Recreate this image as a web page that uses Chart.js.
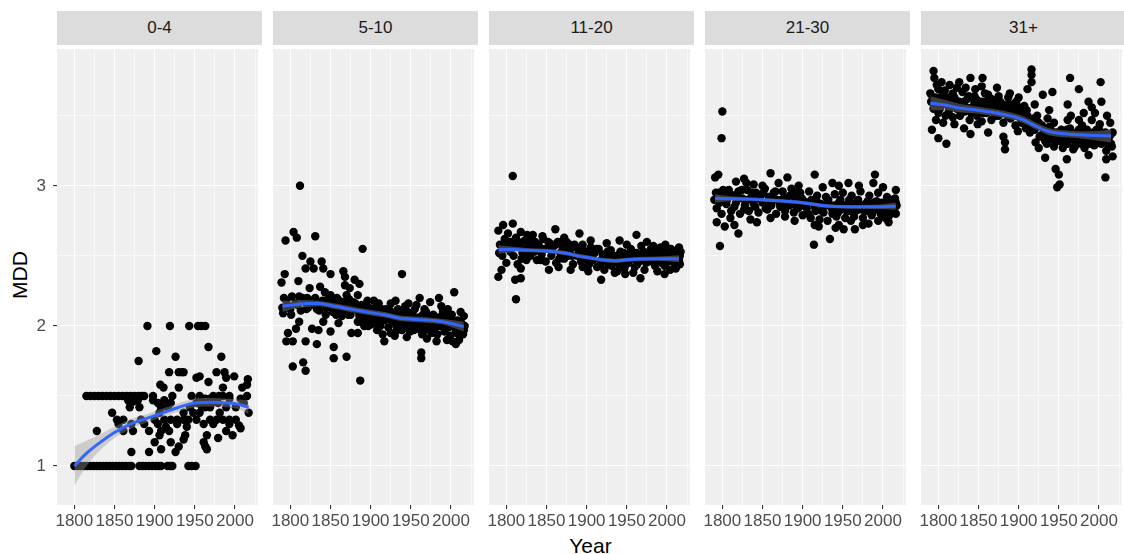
<!DOCTYPE html>
<html>
<head>
<meta charset="utf-8">
<script src="https://cdn.jsdelivr.net/npm/chart.js@4.4.1/dist/chart.umd.min.js"></script>
<style>
  body { margin: 0; width: 1124px; height: 554px; overflow: hidden; background: #fff; position: relative;
         font-family: "Liberation Sans", Arial, sans-serif; }
  .strip { position: absolute; top: 11px; height: 34px; width: 205px; background: #dcdcdc; color: #1a1a1a;
           font-size: 17px; display: flex; align-items: center; justify-content: center; }
  canvas { position: absolute; top: 45px; }
  #xtitle { position: absolute; left: 0; width: 1181px; top: 536px; line-height: 20px; font-size: 21px;
            text-align: center; color: #000; }
  #ytitle { position: absolute; left: 20px; top: 275px; font-size: 21px; line-height: 20px; color: #000;
            transform: translate(-50%, -50%) rotate(-90deg); white-space: nowrap; }
</style>
</head>
<body>
<div id="ytitle">MDD</div>
<div id="xtitle">Year</div>
<script>
const facets = ["0-4", "5-10", "11-20", "21-30", "31+"]
const xTicks = [1800, 1825, 1850, 1875, 1900, 1925, 1950, 1975, 2000, 2025]
const yTicks = [1, 1.5, 2, 2.5, 3, 3.5]

// points: [year, MDD]
const pts04 = [
  [1800,1],[1804,1],[1808,1],[1812,1],[1816,1],[1820,1],[1824,1],[1828,1],[1832,1],[1836,1],[1840,1],[1844,1],
  [1848,1],[1852,1],[1856,1],[1860,1],[1864,1],[1868,1],[1871,1],[1881,1],[1885,1],[1889,1],[1893,1],[1897,1],
  [1901,1],[1905,1],[1908,1],[1916,1],[1919,1],[1922,1],[1942,1],[1946,1],[1951,1],
  [1815,1.5],[1820,1.5],[1825,1.5],[1830,1.5],[1835,1.5],[1840,1.5],[1845,1.5],[1850,1.5],[1855,1.5],[1860,1.5],
  [1865,1.5],[1870,1.5],[1875,1.5],[1880,1.5],[1884,1.5],[1887,1.5],[1898,1.5],[1922,1.5],[1946,1.5],[1956,1.5],
  [1973,1.5],[1980,1.5],[1985,1.5],[1993,1.5],[2015,1.5],
  [1891,2],[1919,2],[1943,2],[1954,2],[1958,2],[1963,2],
  [1880,1.75],[1902,1.82],[1967,1.85],[1926,1.78],[1983,1.78],
  [1918,1.67],[1930,1.67],[1934,1.67],[1936,1.67],[1977,1.67],[1987,1.67],[1999,1.64],
  [1952,1.63],[1956,1.64],[1989,1.63],[2016,1.62],[1907,1.58],[1967,1.6],[2015,1.58],
  [1911,1.56],[1930,1.56],[1985,1.56],[2009,1.56],
  [1867,1.47],[1873,1.46],[1879,1.47],[1898,1.47],[1912,1.47],[1956,1.48],[1963,1.48],[1969,1.48],[1977,1.47],
  [1993,1.48],[2007,1.48],[1904,1.45],[1920,1.45],[1952,1.45],[1971,1.45],[1979,1.45],[2011,1.45],
  [1869,1.42],[1881,1.42],[1908,1.42],[1916,1.42],[1944,1.42],[1959,1.42],[1963,1.42],[1969,1.42],[1989,1.42],
  [2001,1.42],[2017,1.38],[1847,1.38],[1906,1.38],[1936,1.38],[1948,1.38],[1956,1.38],[1981,1.38],
  [1853,1.33],[1861,1.33],[1883,1.33],[1900,1.33],[1912,1.33],[1920,1.33],[1928,1.33],[1936,1.33],[1942,1.33],
  [1952,1.33],[1969,1.33],[1977,1.33],[1985,1.33],[1993,1.33],[2001,1.33],
  [1855,1.3],[1871,1.3],[1887,1.3],[1904,1.3],[1928,1.3],[1961,1.3],[1973,1.3],[1993,1.3],[2005,1.29],
  [1914,1.28],[1940,1.28],[2007,1.27],[1828,1.25],[1861,1.25],[1873,1.25],[1893,1.25],[1908,1.25],[1918,1.25],
  [1989,1.25],[1906,1.22],[1938,1.22],[1965,1.22],[1997,1.22],[1936,1.19],[1979,1.2],
  [1900,1.17],[1920,1.17],[1961,1.17],[1930,1.14],[1963,1.14],[1908,1.12],[1965,1.12],
  [1871,1.1],[1893,1.1],[1926,1.1]
]

const pts510 = [
  [1812,3.0],[1804,2.67],[1794,2.61],[1808,2.63],[1831,2.64],[1890,2.55],[1815,2.5],[1825,2.46],[1839,2.46],
  [1819,2.41],[1829,2.41],[1841,2.41],[1850,2.37],[1866,2.39],[1868,2.35],[1939,2.37],[1793,2.37],[1789,2.31],
  [1810,2.32],[1824,2.27],[1837,2.28],[1880,2.33],[1886,2.3],[1868,2.29],[1874,2.27],[2004,2.24],[1843,2.24],
  [1850,2.22],[1961,2.2],[1985,2.2],[1811,2.21],[1821,2.2],[1858,2.2],[1870,2.22],[1884,2.22],[1896,2.18],
  [1904,2.18],[1931,2.18],[1947,2.16],[1974,2.17],
  [1791,2.09],[1801,2.08],[1811,2.03],[1807,1.98],[1797,1.95],[1795,1.89],[1803,1.89],[1819,1.89],[1833,1.87],
  [1827,1.98],[1835,1.97],[1841,2.03],[1850,1.96],[1854,1.85],[1803,1.71],[1816,1.74],[1819,1.68],[1854,1.77],
  [1870,1.78],[1887,1.61],[1876,1.95],[1884,1.95],[1860,2.02],[1864,2.07],[1872,2.08],[1884,2.03],[1900,2.01],
  [1917,1.89],[1925,1.95],[1908,1.97],[1892,2.0],[1963,1.81],[1963,1.77],[2002,1.89],[2006,1.87],[2010,1.9],
  [2016,2.07],[2014,1.96],[2000,2.05],
  [1790,2.13],[1795,2.18],[1800,2.12],[1806,2.16],[1813,2.11],[1818,2.17],[1822,2.13],[1828,2.18],[1833,2.12],
  [1838,2.16],[1845,2.13],[1847,2.19],[1853,2.1],[1856,2.15],[1862,2.12],[1866,2.17],[1871,2.13],[1875,2.08],
  [1878,2.17],[1882,2.12],[1886,2.07],[1889,2.15],[1893,2.1],[1895,2.05],[1898,2.13],[1901,2.09],[1903,2.02],
  [1906,2.13],[1909,2.06],[1912,2.0],[1914,2.12],[1917,2.04],[1920,2.08],[1922,1.99],[1924,2.11],[1927,2.03],
  [1929,2.08],[1932,2.0],[1934,2.12],[1936,2.05],[1939,1.97],[1941,2.07],[1944,2.01],[1946,2.1],[1949,1.96],
  [1951,2.05],[1953,2.0],[1955,2.12],[1958,1.98],[1960,2.06],[1964,1.94],[1966,2.03],[1969,2.1],[1971,1.98],
  [1973,2.05],[1976,1.95],[1978,2.08],[1980,2.01],[1983,1.94],[1985,2.06],[1987,2.0],[1990,2.1],[1992,1.96],
  [1994,2.04],[1997,1.99],[1999,1.93],[2001,2.08],[2003,2.0],[2006,1.96],[2008,2.04],[2011,1.99],[2013,2.02],
  [2015,1.94],[2017,2.0],[1957,2.15],[1988,2.14],[1943,2.14],[1925,2.16],[1910,2.16],[1996,2.12],[2012,2.1],
  [1915,1.94],[1930,1.93],[1945,1.92],[1970,1.91],[1982,1.89],[1995,1.9],[1952,2.09],[1967,2.12],[1977,2.02],
  [1937,2.09],[1919,2.12],
  [1792,2.2],[1798,2.14],[1802,2.21],[1809,2.15],[1815,2.2],[1820,2.12],[1826,2.15],[1831,2.2],[1836,2.11],
  [1840,2.18],[1844,2.08],[1848,2.15],[1852,2.18],[1857,2.08],[1861,2.18],[1865,2.1],[1869,2.14],[1873,2.19],
  [1877,2.12],[1881,2.16],[1885,2.1],[1888,2.03],[1891,2.08],[1894,2.14],[1897,2.0],[1900,2.06],[1904,2.1],
  [1907,2.02],[1911,2.09],[1915,2.05],[1918,2.1],[1921,2.05],[1926,2.07],[1931,2.05],[1933,1.97],[1938,2.03],
  [1940,2.1],[1942,1.99],[1948,2.03],[1950,2.08],[1954,1.97],[1957,2.04],[1962,2.0],[1965,2.08],[1968,1.97],
  [1972,2.02],[1975,2.07],[1979,1.97],[1981,2.04],[1984,2.0],[1989,2.03],[1991,1.99],[1993,2.07],[1998,2.02],
  [2002,2.04],[2005,2.0],[2007,1.95],[2009,2.02],[2012,1.96],[2014,2.0],[2016,1.97]
]

const pts1120 = [
  [1808,3.07],[1812,2.19],[1790,2.35],[1794,2.4],[1811,2.33],[1818,2.34],[1818,2.41],[1853,2.4],[1865,2.42],
  [1790,2.68],[1796,2.72],[1808,2.73],[1802,2.66],[1818,2.67],[1833,2.65],[1861,2.69],[1891,2.66],[1941,2.61],
  [1962,2.65],[1983,2.57],[2015,2.56],[1902,2.39],[1918,2.33],[1938,2.39],[1967,2.34],[1997,2.37],[2011,2.41],
  [1792,2.58],[1795,2.5],[1798,2.62],[1800,2.45],[1803,2.56],[1806,2.6],[1809,2.5],[1812,2.63],[1814,2.44],
  [1817,2.57],[1820,2.52],[1823,2.61],[1825,2.47],[1828,2.58],[1830,2.5],[1833,2.55],[1836,2.6],[1838,2.47],
  [1841,2.56],[1844,2.51],[1846,2.62],[1849,2.46],[1851,2.55],[1854,2.59],[1856,2.5],[1859,2.57],[1862,2.45],
  [1864,2.6],[1867,2.52],[1870,2.56],[1872,2.48],[1875,2.6],[1877,2.5],[1880,2.55],[1883,2.44],[1885,2.58],
  [1888,2.5],[1890,2.54],[1893,2.46],[1895,2.58],[1898,2.49],[1900,2.53],[1903,2.44],[1905,2.56],[1908,2.47],
  [1910,2.52],[1913,2.42],[1915,2.55],[1918,2.47],[1920,2.51],[1922,2.4],[1925,2.5],[1927,2.44],[1930,2.54],
  [1932,2.46],[1935,2.38],[1937,2.5],[1940,2.44],[1942,2.53],[1945,2.47],[1947,2.41],[1950,2.51],[1952,2.45],
  [1955,2.55],[1957,2.48],[1960,2.42],[1962,2.52],[1965,2.46],[1968,2.57],[1970,2.49],[1972,2.4],[1975,2.52],
  [1977,2.46],[1980,2.55],[1982,2.48],[1985,2.43],[1987,2.53],[1990,2.47],[1992,2.56],[1995,2.5],[1997,2.43],
  [2000,2.52],[2002,2.46],[2005,2.55],[2007,2.49],[2010,2.44],[2012,2.52],[2015,2.47],[2017,2.53],[1826,2.65],
  [1845,2.64],[1872,2.63],[1905,2.61],[1925,2.59],[1950,2.58],[1975,2.6],[1998,2.58],[2016,2.5],[1880,2.4],
  [1895,2.42],[1948,2.37],[1958,2.38],[1988,2.39],[2004,2.4],
  [1791,2.52],[1797,2.55],[1801,2.6],[1805,2.53],[1810,2.57],[1815,2.6],[1819,2.48],[1822,2.55],[1827,2.52],
  [1831,2.62],[1835,2.53],[1840,2.58],[1843,2.47],[1848,2.55],[1852,2.6],[1857,2.53],[1861,2.58],[1866,2.48],
  [1869,2.6],[1874,2.53],[1879,2.58],[1882,2.5],[1887,2.56],[1892,2.5],[1897,2.53],[1901,2.47],[1907,2.5],
  [1912,2.55],[1917,2.44],[1921,2.47],[1926,2.53],[1931,2.43],[1934,2.5],[1939,2.48],[1943,2.45],[1946,2.52],
  [1949,2.44],[1954,2.48],[1959,2.5],[1963,2.44],[1967,2.5],[1971,2.53],[1974,2.45],[1979,2.48],[1983,2.51],
  [1986,2.46],[1989,2.5],[1993,2.45],[1996,2.53],[2001,2.48],[2004,2.5],[2008,2.53],[2011,2.48],[2014,2.5],
  [2016,2.44]
]

const pts2130 = [
  [1800,3.53],[1799,3.34],[1797,2.57],[1791,3.06],[1795,3.08],[1860,3.09],[1881,3.06],[1915,3.08],[1990,3.08],
  [1937,3.02],[1957,3.02],[1988,3.02],[2016,2.97],[1827,3.05],[1817,3.03],[1839,3.01],
  [1793,2.74],[1803,2.71],[1815,2.72],[1820,2.66],[1843,2.74],[1878,2.78],[1914,2.58],[1915,2.72],[1934,2.62],
  [1951,2.69],[1965,2.69],[1982,2.73],[1994,2.75],[2007,2.74],[2016,2.8],
  [1790,2.9],[1793,2.84],[1796,2.95],[1799,2.8],[1802,2.92],[1805,2.87],[1808,2.97],[1811,2.82],[1814,2.93],
  [1817,2.88],[1820,2.96],[1822,2.8],[1825,2.91],[1828,2.86],[1831,2.97],[1833,2.82],[1836,2.92],[1839,2.87],
  [1842,2.95],[1845,2.81],[1848,2.93],[1850,2.88],[1853,2.98],[1856,2.83],[1858,2.92],[1861,2.86],[1864,2.95],
  [1867,2.8],[1869,2.9],[1872,2.85],[1875,2.96],[1878,2.82],[1880,2.91],[1883,2.86],[1886,2.98],[1889,2.81],
  [1891,2.9],[1894,2.84],[1897,2.95],[1900,2.79],[1902,2.89],[1905,2.84],[1908,2.96],[1910,2.77],[1913,2.88],
  [1916,2.82],[1918,2.93],[1921,2.76],[1923,2.87],[1926,2.81],[1929,2.92],[1931,2.75],[1934,2.86],[1937,2.8],
  [1940,2.94],[1942,2.78],[1945,2.88],[1948,2.83],[1950,2.95],[1953,2.77],[1956,2.87],[1959,2.82],[1961,2.93],
  [1964,2.78],[1967,2.88],[1970,2.83],[1972,2.96],[1975,2.77],[1978,2.87],[1980,2.82],[1983,2.93],[1986,2.79],
  [1989,2.88],[1991,2.84],[1994,2.95],[1997,2.8],[1999,2.88],[2002,2.83],[2005,2.92],[2008,2.79],[2010,2.87],
  [2013,2.84],[2015,2.91],[2017,2.86],[1830,3.02],[1850,3.0],[1870,3.02],[1895,3.0],[1925,2.99],[1945,3.0],
  [1970,3.0],[2000,2.99],[1810,2.77],[1835,2.76],[1860,2.77],[1890,2.75],[1920,2.71],[1945,2.72],[1975,2.72],
  [2003,2.77],[1941,2.7],[1960,2.75],
  [1792,2.95],[1797,2.88],[1801,2.97],[1806,2.9],[1810,2.94],[1815,2.85],[1819,2.91],[1824,2.97],[1827,2.83],
  [1832,2.9],[1837,2.95],[1841,2.85],[1846,2.91],[1851,2.95],[1854,2.84],[1859,2.89],[1863,2.9],[1866,2.96],
  [1871,2.88],[1876,2.91],[1879,2.86],[1884,2.93],[1888,2.87],[1892,2.95],[1896,2.85],[1899,2.91],[1904,2.87],
  [1907,2.8],[1911,2.9],[1915,2.85],[1919,2.88],[1924,2.82],[1928,2.86],[1932,2.9],[1936,2.84],[1939,2.86],
  [1944,2.81],[1947,2.9],[1951,2.86],[1955,2.82],[1958,2.9],[1962,2.85],[1966,2.82],[1969,2.9],[1973,2.86],
  [1977,2.82],[1981,2.89],[1985,2.85],[1988,2.82],[1992,2.89],[1996,2.86],[2000,2.82],[2004,2.87],[2007,2.84],
  [2011,2.9],[2014,2.82],[2016,2.88]
]

const pts31 = [
  [1794,3.82],[1795,3.77],[1916,3.83],[1916,3.79],[1916,3.74],[1964,3.77],[2002,3.74],[1975,3.69],[1942,3.67],
  [1930,3.65],[1911,3.69],[1814,3.72],[1826,3.74],[1840,3.77],[1855,3.77],[1854,3.71],[1873,3.7],[1804,3.74],
  [1790,3.66],[1800,3.69],[1818,3.66],[1830,3.67],[1846,3.69],[1862,3.65],[1875,3.64],[1887,3.63],[1897,3.6],
  [1907,3.57],[1920,3.58],[1938,3.54],[1961,3.58],[1987,3.6],[2003,3.6],[1991,3.56],[1981,3.52],
  [1792,3.4],[1800,3.34],[1810,3.3],[1797,3.47],[1806,3.45],[1820,3.44],[1832,3.41],[1840,3.37],[1862,3.38],
  [1849,3.44],[1881,3.35],[1883,3.31],[1883,3.26],[1899,3.39],[1909,3.41],[1921,3.31],[1925,3.27],[1933,3.2],
  [1933,3.32],[1946,3.12],[1950,3.08],[1948,2.99],[1951,3.01],[1960,3.19],[1956,3.3],[1968,3.26],[1972,3.31],
  [1987,3.22],[1985,3.33],[1997,3.4],[2009,3.31],[2014,3.45],[2017,3.21],[2009,3.19],[2008,3.06],[1936,3.48],
  [1944,3.45],[1961,3.47],[1979,3.43],[1991,3.47],[2001,3.44],
  [1791,3.6],[1794,3.55],[1797,3.63],[1800,3.52],[1803,3.58],[1806,3.62],[1809,3.5],[1812,3.57],[1815,3.62],
  [1818,3.49],[1821,3.56],[1824,3.6],[1827,3.5],[1830,3.58],[1833,3.53],[1836,3.62],[1839,3.47],[1842,3.56],
  [1845,3.6],[1848,3.5],[1851,3.57],[1854,3.46],[1857,3.6],[1860,3.52],[1863,3.57],[1866,3.47],[1869,3.55],
  [1872,3.6],[1875,3.5],[1878,3.56],[1881,3.45],[1884,3.54],[1887,3.58],[1890,3.48],[1893,3.53],[1896,3.43],
  [1899,3.55],[1902,3.48],[1905,3.52],[1908,3.44],[1911,3.5],[1914,3.38],[1917,3.46],[1920,3.4],[1923,3.5],
  [1926,3.35],[1929,3.43],[1932,3.38],[1935,3.3],[1938,3.42],[1941,3.34],[1944,3.28],[1947,3.38],[1950,3.32],
  [1953,3.4],[1955,3.27],[1958,3.36],[1961,3.3],[1964,3.41],[1967,3.34],[1970,3.28],[1973,3.38],[1976,3.32],
  [1979,3.35],[1982,3.27],[1985,3.4],[1988,3.3],[1991,3.37],[1994,3.29],[1997,3.34],[2000,3.4],[2003,3.3],
  [2006,3.37],[2009,3.25],[2012,3.34],[2015,3.3],[2017,3.38],[1889,3.66],[1900,3.63],[1880,3.58],[1866,3.62],
  [1858,3.66],[1845,3.64],[1834,3.7],[1823,3.7],[1808,3.68],[1798,3.72],[1965,3.5],[1975,3.47],[2010,3.5],
  [1995,3.52],
  [1793,3.63],[1796,3.58],[1799,3.62],[1802,3.55],[1805,3.65],[1808,3.59],[1811,3.63],[1813,3.53],[1817,3.58],
  [1820,3.63],[1823,3.55],[1826,3.6],[1829,3.53],[1832,3.6],[1835,3.56],[1838,3.64],[1841,3.52],[1844,3.57],
  [1847,3.62],[1850,3.54],[1853,3.6],[1856,3.52],[1859,3.57],[1862,3.6],[1865,3.53],[1868,3.58],[1871,3.5],
  [1874,3.56],[1877,3.6],[1880,3.52],[1883,3.57],[1886,3.5],[1889,3.55],[1892,3.58],[1895,3.5],[1898,3.52],
  [1901,3.56],[1904,3.45],[1907,3.5],[1910,3.54],[1913,3.46],[1916,3.42],[1919,3.48],[1922,3.42],[1925,3.45],
  [1928,3.36],[1931,3.4],[1934,3.35],[1937,3.37],[1940,3.4],[1943,3.33],[1946,3.36],[1952,3.36],[1957,3.33],
  [1960,3.4],[1963,3.35],[1966,3.38],[1969,3.33],[1972,3.36],[1975,3.4],[1978,3.3],[1981,3.38],[1984,3.33],
  [1987,3.36],[1990,3.32],[1993,3.38],[1996,3.3],[1999,3.35],[2002,3.37],[2005,3.32],[2008,3.38],[2011,3.3],
  [2014,3.36],[2016,3.28]
]

// loess fits: year, fit, half-width of the grey band
const fitYear04 = [1800, 1815, 1830, 1850, 1870, 1890, 1910, 1930, 1950, 1970, 1990, 2005, 2017]
const fitMdd04 = [1.0, 1.09, 1.16, 1.24, 1.3, 1.34, 1.38, 1.42, 1.45, 1.455, 1.45, 1.44, 1.42]
const fitSe04 = [0.14, 0.09, 0.06, 0.04, 0.035, 0.03, 0.03, 0.03, 0.03, 0.03, 0.03, 0.035, 0.05]

const fitYear510 = [1790, 1803, 1820, 1835, 1856, 1870, 1884, 1900, 1917, 1937, 1961, 1990, 2016]
const fitMdd510 = [2.14, 2.15, 2.16, 2.16, 2.14, 2.125, 2.11, 2.095, 2.08, 2.055, 2.045, 2.03, 1.995]
const fitSe510 = [0.04, 0.03, 0.025, 0.02, 0.02, 0.02, 0.02, 0.02, 0.02, 0.02, 0.02, 0.02, 0.035]

const fitYear1120 = [1790, 1810, 1828, 1850, 1873, 1889, 1905, 1922, 1935, 1950, 1970, 1987, 2015]
const fitMdd1120 = [2.546, 2.545, 2.54, 2.535, 2.52, 2.5, 2.485, 2.47, 2.465, 2.472, 2.478, 2.48, 2.48]
const fitSe1120 = [0.03, 0.02, 0.015, 0.015, 0.015, 0.015, 0.015, 0.015, 0.015, 0.015, 0.015, 0.015, 0.025]

const fitYear2130 = [1791, 1810, 1833, 1855, 1878, 1902, 1927, 1955, 1988, 2016]
const fitMdd2130 = [2.91, 2.908, 2.905, 2.898, 2.89, 2.878, 2.857, 2.85, 2.85, 2.855]
const fitSe2130 = [0.03, 0.018, 0.014, 0.013, 0.013, 0.013, 0.013, 0.013, 0.015, 0.025]

const fitYear31 = [1790, 1810, 1826, 1850, 1867, 1885, 1899, 1910, 1920, 1936, 1950, 1960, 1975, 1989, 2015]
const fitMdd31 = [3.59, 3.575, 3.555, 3.54, 3.525, 3.505, 3.485, 3.46, 3.43, 3.39, 3.375, 3.37, 3.365, 3.36, 3.355]
const fitSe31 = [0.05, 0.035, 0.03, 0.025, 0.025, 0.025, 0.025, 0.025, 0.025, 0.025, 0.025, 0.025, 0.025, 0.03, 0.045]

const panels = [
  { pts: pts04, fx: fitYear04, fy: fitMdd04, se: fitSe04 },
  { pts: pts510, fx: fitYear510, fy: fitMdd510, se: fitSe510 },
  { pts: pts1120, fx: fitYear1120, fy: fitMdd1120, se: fitSe1120 },
  { pts: pts2130, fx: fitYear2130, fy: fitMdd2130, se: fitSe2130 },
  { pts: pts31, fx: fitYear31, fy: fitMdd31, se: fitSe31 }
]

const panelLeft = [57, 273, 489, 705, 921]
const panelWidth = 205
const xMin = 1778.4, xMax = 2028.4
const yMin = 0.722, yMax = 3.975
const tickFont = { family: "Liberation Sans, Arial, sans-serif", size: 17 }

// grey panel background behind the grid
const panelBg = {
  id: "panelBg",
  beforeDraw(chart) {
    const a = chart.chartArea
    const ctx = chart.ctx
    ctx.save()
    ctx.fillStyle = "#efefef"
    ctx.fillRect(a.left, a.top, a.right - a.left, a.bottom - a.top)
    ctx.restore()
  }
}

// keep every panel the same size: no label overhang padding
const noPad = s => {
  s.paddingTop = 0
  s.paddingBottom = 0
  s.paddingLeft = 0
  s.paddingRight = 0
}

const xy = (xs, ys) => xs.map((x, i) => ({ x: x, y: ys[i] }))

panels.forEach((p, k) => {
  const strip = document.createElement("div")
  strip.className = "strip"
  strip.style.left = panelLeft[k] + "px"
  strip.textContent = facets[k]
  document.body.appendChild(strip)

  const padLeft = k === 0 ? 0 : 10
  const canvas = document.createElement("canvas")
  const w = k === 0 ? panelLeft[0] + panelWidth : panelWidth + padLeft
  canvas.width = w
  canvas.height = 490
  canvas.style.left = (k === 0 ? 0 : panelLeft[k] - padLeft) + "px"
  document.body.appendChild(canvas)

  const upper = p.fy.map((v, i) => v + p.se[i])
  const lower = p.fy.map((v, i) => v - p.se[i])

  new Chart(canvas, {
    type: "scatter",
    data: {
      datasets: [
        {
          type: "line", data: xy(p.fx, p.fy), borderColor: "#3366ff", borderWidth: 3,
          pointRadius: 0, cubicInterpolationMode: "monotone", fill: false
        },
        {
          type: "line", data: xy(p.fx, upper), borderColor: "transparent", borderWidth: 0,
          pointRadius: 0, cubicInterpolationMode: "monotone", fill: "+1",
          backgroundColor: "rgba(153,153,153,0.4)"
        },
        {
          type: "line", data: xy(p.fx, lower), borderColor: "transparent", borderWidth: 0,
          pointRadius: 0, cubicInterpolationMode: "monotone", fill: false
        },
        {
          type: "scatter", data: p.pts.map(d => ({ x: d[0], y: d[1] })),
          pointRadius: 4.2, backgroundColor: "#000", borderWidth: 0, pointHoverRadius: 4.2
        }
      ]
    },
    options: {
      responsive: false,
      animation: false,
      devicePixelRatio: 1,
      events: [],
      layout: { padding: { left: padLeft, right: 0, top: 0, bottom: 0 } },
      plugins: { legend: { display: false }, tooltip: { enabled: false } },
      scales: {
        x: {
          type: "linear", min: xMin, max: xMax,
          afterBuildTicks: s => { s.ticks = xTicks.map(v => ({ value: v })) },
          afterFit: s => { s.height = 30; noPad(s) },
          border: { display: false },
          grid: {
            color: "#ffffff",
            lineWidth: c => (c.tick && c.tick.value % 50 === 0 ? 1.1 : 0.55),
            tickLength: 4,
            tickColor: c => (c.tick && c.tick.value % 50 === 0 ? "#333333" : "rgba(0,0,0,0)"),
            tickWidth: 1.1
          },
          ticks: {
            color: "#4d4d4d", font: tickFont, padding: 2, maxRotation: 0, autoSkip: false,
            callback: v => (v % 50 === 0 ? String(v) : "")
          }
        },
        y: {
          type: "linear", min: yMin, max: yMax,
          afterBuildTicks: s => { s.ticks = yTicks.map(v => ({ value: v })) },
          afterFit: s => { s.width = k === 0 ? panelLeft[0] : 0; noPad(s) },
          border: { display: false },
          grid: {
            color: "#ffffff",
            lineWidth: c => (c.tick && Number.isInteger(c.tick.value) ? 1.1 : 0.55),
            drawTicks: k === 0,
            tickLength: 4,
            tickColor: c => (c.tick && Number.isInteger(c.tick.value) ? "#333333" : "rgba(0,0,0,0)"),
            tickWidth: 1.1
          },
          ticks: {
            display: k === 0,
            color: "#4d4d4d", font: tickFont, padding: 7,
            callback: v => (Number.isInteger(v) ? String(v) : "")
          }
        }
      }
    },
    plugins: [panelBg]
  })
})
</script>
</body>
</html>
